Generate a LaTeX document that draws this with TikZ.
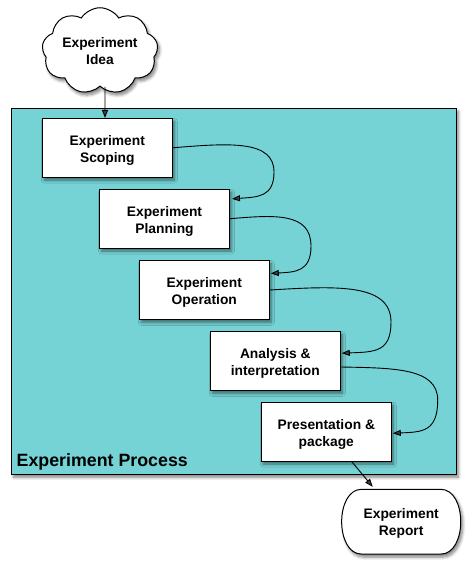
\documentclass[tikz,border=0pt]{standalone}
\usepackage{fontspec}
\setmainfont{Liberation Sans}
\usetikzlibrary{arrows.meta,shapes.symbols,shadows.blur}
\definecolor{teal1}{RGB}{118,211,213}
\tikzset{
  shad/.style={blur shadow={shadow xshift=2pt,shadow yshift=-3pt,shadow blur steps=6,shadow opacity=50,shadow blur radius=3pt}},
  stepbox/.style={draw=black,line width=1pt,fill=white,minimum width=130pt,minimum height=58.7pt,inner sep=0pt,shad},
  arr/.style={line width=0.9pt,-{Triangle[length=8pt,width=6pt]}},
  lbl/.style={align=center,inner sep=0pt,font=\fontsize{13.8}{17}\selectfont\bfseries}
}
\begin{document}
\begin{tikzpicture}[x=1pt,y=-1pt]
\useasboundingbox (0,0) rectangle (472,569);
% process frame
\node[draw=black,line width=1pt,fill=teal1,minimum width=444.6pt,minimum height=366pt,inner sep=0pt,shad] (proc) at (234,291.3) {};
\node[anchor=west,inner sep=0pt,font=\fontsize{17.8}{20}\selectfont\bfseries] (ptitle) at (16.5,462) {Experiment Process};
% cloud
\node[cloud,cloud puffs=9,cloud puff arc=115,aspect=1.5,draw=black,line width=1pt,fill=white,minimum width=116pt,minimum height=78pt,lbl,shad] (idea) at (100,51) {Experiment\\Idea};
% steps
\node[stepbox] (s1) at (107.3,147.8) {};
\node[stepbox] (s2) at (164.5,218.7) {};
\node[stepbox] (s3) at (204.3,290) {};
\node[stepbox] (s4) at (275.3,361) {};
\node[stepbox] (s5) at (326.3,431.7) {};
\node[lbl] (t1) at ([yshift=-2.5pt]s1.center) {Experiment\\Scoping};
\node[lbl] (t2) at ([yshift=-2.5pt]s2.center) {Experiment\\Planning};
\node[lbl] (t3) at ([yshift=-2.5pt]s3.center) {Experiment\\Operation};
\node[lbl] (t4) at ([yshift=-2.5pt]s4.center) {Analysis \&\\interpretation};
\node[lbl] (t5) at ([yshift=-2.5pt]s5.center) {Presentation \&\\package};
% report
\coordinate (r) at (401.2,521.7);
\path (r) ++(-59.5,-32.4) coordinate (rnw) ++(119,0) coordinate (rne) ++(0,64.8) coordinate (rse) ++(-119,0) coordinate (rsw);
\draw[line width=1pt,fill=white,shad]
  ([xshift=20pt]rnw) -- ([xshift=-20pt]rne)
  .. controls ([xshift=6.7pt]rne) and ([xshift=6.7pt]rse) .. ([xshift=-20pt]rse)
  -- ([xshift=20pt]rsw)
  .. controls ([xshift=-6.7pt]rsw) and ([xshift=-6.7pt]rnw) .. cycle;
\node[lbl] (rt) at ([yshift=-1.5pt]r) {Experiment\\Report};
% connectors
\draw[arr] ([xshift=5pt]idea.south) -- ([xshift=-2.3pt]s1.north);
\draw[arr] (s1.east) .. controls (230,143) and (274,140) .. (274,172)
  .. controls (274,197) and (258,197) .. ([xshift=2pt,yshift=-10pt]s2.north east);
\draw[arr] (s2.east) .. controls (274,215) and (311,212) .. (311,246)
  .. controls (311,272) and (295,272) .. ([xshift=1pt,yshift=-13.3pt]s3.north east);
\draw[arr] (s3.east) .. controls (336,286) and (391,283) .. (391,322)
  .. controls (391,352) and (375,352) .. ([xshift=1pt,yshift=-22pt]s4.north east);
\draw[arr] ([yshift=-6pt]s4.east) .. controls (394,368) and (437.7,368) .. (437.7,400)
  .. controls (437.7,432) and (422,432) .. ([xshift=1pt,yshift=-31.4pt]s5.north east);
\draw[arr] ([xshift=25.4pt]s5.south) -- ([xshift=-28.5pt,yshift=2.5pt]rnw -| r);
\end{tikzpicture}
\end{document}
